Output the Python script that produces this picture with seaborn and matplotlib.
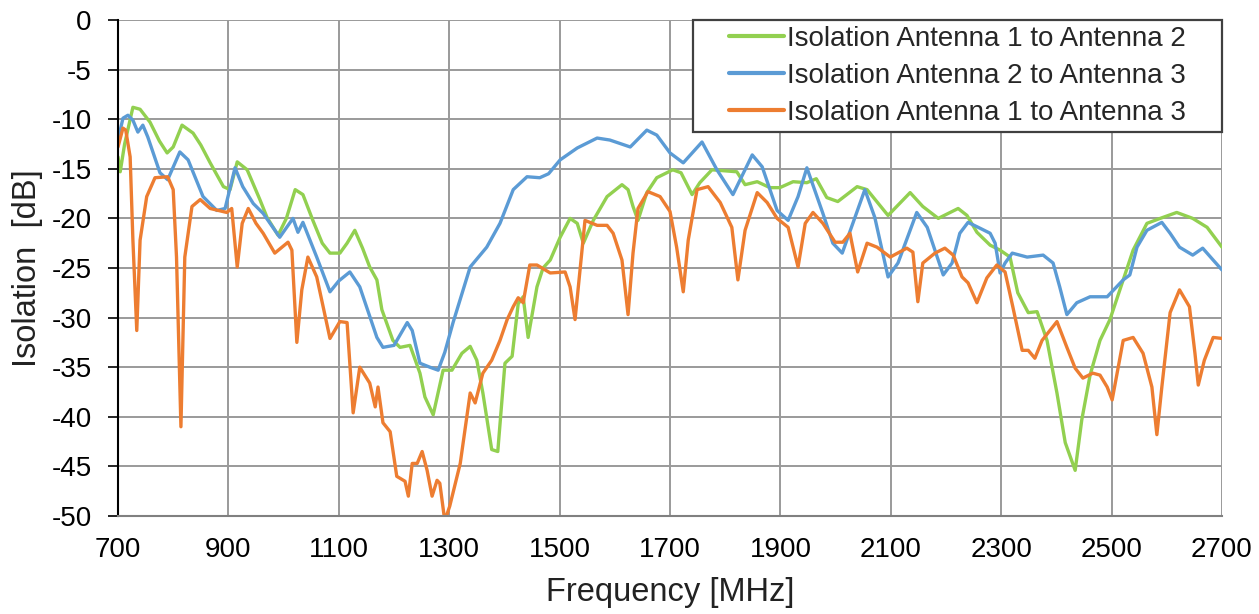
import numpy as np
import pandas as pd
import matplotlib
matplotlib.use("Agg")
import matplotlib.pyplot as plt
from matplotlib.patches import Rectangle
import seaborn as sns

# ---- data ----
labels = ["Isolation Antenna 1 to Antenna 2",
          "Isolation Antenna 2 to Antenna 3",
          "Isolation Antenna 1 to Antenna 3"]

f12 = [700, 704, 712, 727, 740, 758, 775, 789, 800, 816, 836, 850, 867, 891, 903, 916, 934, 957, 970, 990,
       1005, 1021, 1035, 1053, 1070, 1084, 1102, 1115, 1129, 1143, 1156, 1169, 1178, 1198, 1211, 1229, 1247,
       1256, 1271, 1289, 1305, 1323, 1338, 1350, 1361, 1377, 1388, 1401, 1414, 1425, 1434, 1443, 1459, 1470,
       1483, 1501, 1519, 1532, 1543, 1561, 1586, 1613, 1624, 1633, 1642, 1658, 1676, 1705, 1720, 1740, 1754,
       1776, 1821, 1836, 1858, 1881, 1899, 1923, 1948, 1965, 1984, 2004, 2039, 2057, 2095, 2135, 2158, 2186,
       2222, 2238, 2256, 2280, 2298, 2316, 2330, 2349, 2365, 2383, 2401, 2416, 2434, 2446, 2461, 2479, 2497,
       2521, 2539, 2564, 2588, 2618, 2647, 2673, 2700]
v12 = [-13.8, -15.3, -12.5, -8.8, -9.0, -10.3, -12.2, -13.4, -12.8, -10.6, -11.4, -12.6, -14.4, -16.8, -17.1,
       -14.3, -15.1, -18.1, -19.9, -21.7, -20.0, -17.1, -17.6, -20.2, -22.5, -23.5, -23.5, -22.5, -21.2, -23.0,
       -24.9, -26.2, -29.2, -32.3, -33.0, -32.8, -35.6, -38.0, -39.8, -35.3, -35.3, -33.6, -32.9, -34.3, -37.6,
       -43.3, -43.5, -34.6, -33.9, -28.6, -27.9, -32.0, -26.9, -25.0, -24.2, -21.9, -20.0, -20.5, -22.5, -20.2,
       -17.8, -16.6, -17.1, -18.8, -20.2, -17.4, -15.9, -15.1, -15.4, -17.6, -16.4, -15.1, -15.3, -16.6, -16.3,
       -16.9, -16.9, -16.3, -16.4, -16.0, -17.9, -18.3, -16.8, -17.1, -19.7, -17.4, -18.8, -20.0, -19.0, -19.7,
       -21.4, -22.7, -23.2, -23.9, -27.5, -29.5, -29.4, -32.3, -37.6, -42.6, -45.4, -40.3, -35.8, -32.3, -30.2,
       -26.2, -23.2, -20.5, -20.0, -19.4, -20.0, -20.9, -22.9]

f23 = [700, 709, 718, 727, 736, 745, 754, 776, 790, 812, 827, 854, 879, 894, 912, 926, 945, 963, 993, 1017,
       1026, 1035, 1060, 1084, 1100, 1120, 1138, 1169, 1180, 1200, 1224, 1233, 1247, 1265, 1280, 1292, 1307,
       1338, 1368, 1392, 1416, 1441, 1464, 1480, 1501, 1532, 1568, 1591, 1628, 1658, 1676, 1700, 1724, 1758,
       1785, 1814, 1849, 1867, 1894, 1914, 1932, 1948, 1977, 1995, 2012, 2053, 2071, 2095, 2113, 2147, 2166,
       2195, 2211, 2225, 2240, 2262, 2280, 2289, 2298, 2307, 2320, 2347, 2376, 2394, 2406, 2419, 2437, 2461,
       2492, 2521, 2533, 2546, 2564, 2591, 2606, 2623, 2647, 2665, 2684, 2700]
v23 = [-12.1, -9.9, -9.6, -10.1, -11.3, -10.6, -11.8, -15.4, -16.1, -13.3, -14.1, -17.8, -19.2, -19.0, -14.9,
       -16.8, -18.5, -19.5, -21.9, -20.0, -21.4, -20.4, -23.9, -27.4, -26.3, -25.4, -26.9, -32.0, -33.0, -32.8,
       -30.5, -31.3, -34.6, -35.0, -35.3, -33.5, -30.5, -24.9, -22.9, -20.5, -17.1, -15.8, -15.9, -15.5, -14.1,
       -12.9, -11.9, -12.1, -12.8, -11.1, -11.6, -13.4, -14.4, -12.3, -15.1, -17.6, -13.6, -14.8, -19.2, -20.2,
       -17.8, -14.9, -19.5, -22.5, -23.5, -17.1, -19.9, -25.9, -24.5, -19.4, -20.9, -25.7, -24.5, -21.5, -20.4,
       -21.0, -21.5, -22.5, -25.5, -24.5, -23.5, -23.9, -23.7, -24.5, -26.9, -29.7, -28.5, -27.9, -27.9, -26.2,
       -25.7, -22.9, -21.2, -20.4, -21.5, -22.9, -23.7, -23.0, -24.2, -25.2]

f13 = [700, 709, 714, 722, 727, 734, 740, 752, 767, 790, 800, 806, 814, 821, 834, 849, 867, 897, 906, 916,
       925, 936, 950, 963, 984, 1008, 1015, 1024, 1033, 1044, 1060, 1084, 1102, 1115, 1126, 1138, 1156, 1166,
       1171, 1180, 1193, 1205, 1220, 1226, 1233, 1242, 1251, 1260, 1269, 1278, 1283, 1292, 1301, 1320, 1338,
       1347, 1361, 1377, 1392, 1405, 1416, 1425, 1434, 1446, 1459, 1483, 1510, 1519, 1528, 1537, 1546, 1568,
       1586, 1597, 1613, 1624, 1633, 1642, 1660, 1682, 1700, 1712, 1724, 1733, 1749, 1769, 1791, 1812, 1823,
       1836, 1858, 1876, 1894, 1914, 1932, 1945, 1959, 1977, 1999, 2013, 2026, 2040, 2057, 2075, 2099, 2129,
       2140, 2149, 2158, 2180, 2198, 2213, 2229, 2240, 2256, 2274, 2292, 2307, 2321, 2338, 2349, 2361, 2374,
       2401, 2419, 2434, 2448, 2466, 2479, 2492, 2501, 2510, 2521, 2539, 2557, 2573, 2582, 2591, 2606, 2623,
       2641, 2651, 2657, 2668, 2684, 2700]
v13 = [-12.8, -10.9, -11.1, -13.8, -22.2, -31.3, -22.2, -17.8, -15.9, -15.8, -17.1, -23.9, -41.0, -23.9, -18.8,
       -18.1, -19.0, -19.4, -19.0, -24.9, -20.5, -19.0, -20.5, -21.5, -23.5, -22.4, -23.2, -32.5, -27.2, -23.9,
       -25.9, -32.1, -30.4, -30.5, -39.6, -35.0, -36.6, -39.0, -37.0, -40.6, -41.5, -46.0, -46.5, -48.0, -44.7,
       -44.7, -43.5, -45.4, -48.0, -46.4, -46.7, -50.5, -49.0, -44.7, -37.6, -38.6, -35.6, -34.3, -32.3, -30.2,
       -28.9, -28.0, -28.5, -24.7, -24.7, -25.5, -25.4, -26.9, -30.2, -25.2, -20.2, -20.7, -20.7, -21.5, -24.2,
       -29.7, -23.5, -19.0, -17.3, -17.8, -19.3, -22.9, -27.4, -22.2, -17.1, -16.8, -18.4, -20.9, -26.2, -21.2,
       -17.4, -18.4, -20.0, -20.9, -24.9, -20.5, -19.4, -20.5, -22.4, -22.4, -21.5, -25.4, -22.5, -22.9, -23.9,
       -23.0, -23.4, -28.4, -24.5, -23.5, -23.0, -23.7, -25.9, -26.5, -28.5, -26.0, -24.7, -25.4, -28.9, -33.3,
       -33.3, -34.1, -32.3, -30.4, -33.0, -35.1, -36.1, -35.6, -35.8, -37.0, -38.3, -35.6, -32.3, -32.0, -33.6,
       -37.0, -41.8, -37.0, -29.5, -27.2, -28.9, -33.6, -36.8, -34.3, -32.0, -32.1]

x_ticks = [700, 900, 1100, 1300, 1500, 1700, 1900, 2100, 2300, 2500, 2700]
y_ticks = [0, -5, -10, -15, -20, -25, -30, -35, -40, -45, -50]
colors = ["#92D050", "#5B9BD5", "#ED7D31"]

df = pd.concat([
    pd.DataFrame({"Frequency": f12, "Isolation": v12, "Series": labels[0]}),
    pd.DataFrame({"Frequency": f23, "Isolation": v23, "Series": labels[1]}),
    pd.DataFrame({"Frequency": f13, "Isolation": v13, "Series": labels[2]}),
], ignore_index=True)

sns.set_theme(style="white")
plt.rcParams["font.family"] = ["Liberation Sans", "DejaVu Sans"]
plt.rcParams["axes.unicode_minus"] = False

fig = plt.figure(figsize=(12.59, 6.14), dpi=100)
ax = fig.add_axes([118 / 1259, 1 - 516 / 614, (1222 - 118) / 1259, (516 - 20) / 614])

sns.lineplot(data=df, x="Frequency", y="Isolation", hue="Series", hue_order=labels,
             palette=colors, estimator=None, sort=False, linewidth=2.4, ax=ax,
             solid_joinstyle="round", solid_capstyle="round")

ax.set_xlim(700, 2700)
ax.set_ylim(-50, 0)
ax.set_xticks(x_ticks)
ax.set_yticks(y_ticks)
ax.tick_params(axis="both", labelsize=20, colors="#000000", width=1.2, direction="out")
ax.tick_params(axis="y", length=7, pad=12, left=True)
ax.tick_params(axis="x", length=0, pad=15, bottom=False)
ax.grid(True, color="#9a9a9a", linewidth=1.4)
ax.set_axisbelow(True)
for s in ["top", "right"]:
    ax.spines[s].set_visible(False)
ax.spines["left"].set_color("#000000")
ax.spines["left"].set_linewidth(1.5)
ax.spines["bottom"].set_color("#808080")
ax.spines["bottom"].set_linewidth(1.5)

ax.set_xlabel("Frequency [MHz]", fontsize=23.5, labelpad=10, color="#222222")
ax.set_ylabel("Isolation  [dB]", fontsize=23.5, labelpad=6, color="#222222")

# legend box (frame drawn as a rectangle in axes coords)
x0, x1 = (693 - 118) / 1104, 1.0
y0, y1 = (516 - 132) / 496, 1.0
ax.add_patch(Rectangle((x0, y0), x1 - x0, y1 - y0, transform=ax.transAxes, facecolor="white",
                       edgecolor="#404040", linewidth=1.6, zorder=5, clip_on=False))
leg = ax.legend(loc="center", bbox_to_anchor=((x0 + x1) / 2, (y0 + y1) / 2), fontsize=20,
                frameon=False, borderaxespad=0, borderpad=0, handlelength=2.0,
                handletextpad=0.1, labelspacing=0.4)
leg.set_zorder(6)
for line in leg.get_lines():
    line.set_linewidth(3)

fig.savefig("out.png", dpi=100)
